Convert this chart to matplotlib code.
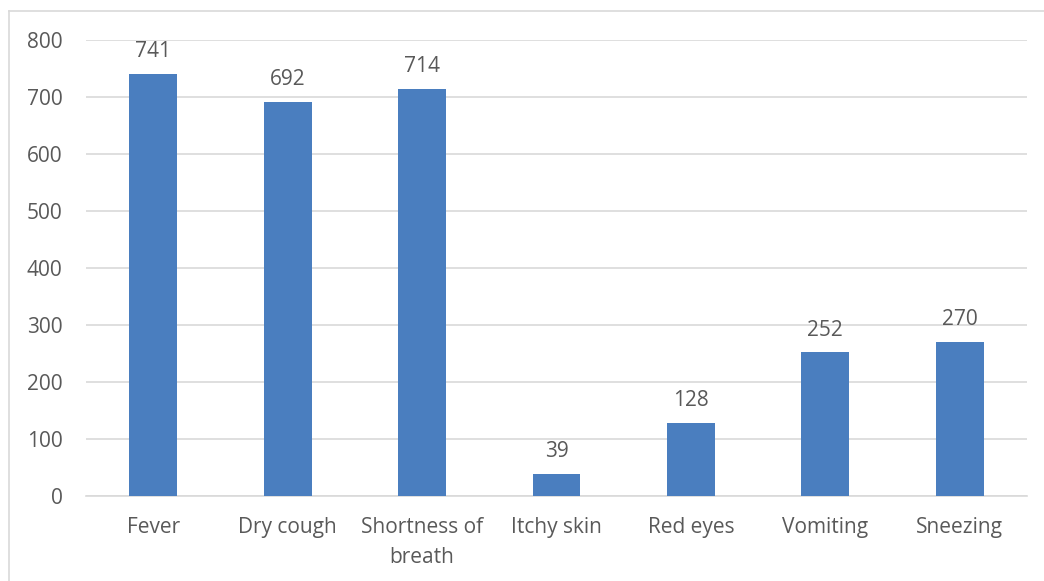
import matplotlib
matplotlib.use("Agg")
import matplotlib.pyplot as plt
from matplotlib.lines import Line2D

categories = ["Fever", "Dry cough", "Shortness of\nbreath", "Itchy skin", "Red eyes", "Vomiting", "Sneezing"]
values = [741, 692, 714, 39, 128, 252, 270]
yticks = [0, 100, 200, 300, 400, 500, 600, 700, 800]

plt.rcParams['font.family'] = ['Open Sans', 'DejaVu Sans']
text_color = "#595959"
bar_color = "#4A7EBF"

W, H = 1044, 581
fig = plt.figure(figsize=(W / 100, H / 100), dpi=100)
ax = fig.add_axes([86 / W, 1 - 496 / H, (1027 - 86) / W, (496 - 40) / H])

x = list(range(len(categories)))
ax.bar(x, values, width=0.357, color=bar_color, zorder=3)
for xi, v in zip(x, values):
    ax.annotate(str(v), (xi, v), xytext=(0, 8.5), textcoords="offset points",
                ha="center", va="bottom", fontsize=15, color=text_color)

ax.set_xlim(-0.5, len(categories) - 0.5)
ax.set_ylim(0, 800)
ax.set_yticks(yticks)
ax.set_yticklabels([str(t) for t in yticks])
ax.set_xticks(x)
ax.set_xticklabels(categories, linespacing=1.55)
ax.tick_params(axis="both", length=0, labelsize=15, colors=text_color)
ax.tick_params(axis="y", pad=17)
ax.tick_params(axis="x", pad=15)
ax.grid(axis="y", color="#D9D9D9", linewidth=1.2, zorder=0)
for s in ["top", "right", "left"]:
    ax.spines[s].set_visible(False)
ax.spines["bottom"].set_color("#D9D9D9")
ax.spines["bottom"].set_linewidth(1.2)

# chart border (left and top edges visible)
fig.add_artist(Line2D([9 / W, 9 / W], [0, 1 - 11 / H], transform=fig.transFigure,
                      color="#D9D9D9", linewidth=1.2))
fig.add_artist(Line2D([9 / W, 1], [1 - 11 / H, 1 - 11 / H], transform=fig.transFigure,
                      color="#D9D9D9", linewidth=1.2))

fig.savefig("out.png", dpi=100)
